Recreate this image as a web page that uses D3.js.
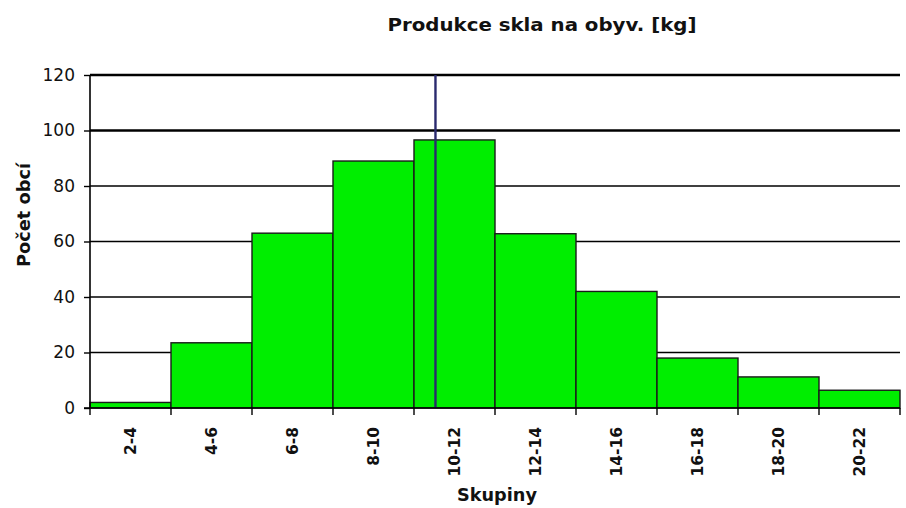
<!DOCTYPE html>
<html>
<head>
<meta charset="utf-8">
<script src="https://cdn.jsdelivr.net/npm/d3@7/dist/d3.min.js"></script>
<style>
  html, body { margin: 0; padding: 0; background: #ffffff; }
  svg { display: block; }
</style>
</head>
<body>
<svg id="chart" width="906" height="508"></svg>
<script>
const categories = ["2-4", "4-6", "6-8", "8-10", "10-12", "12-14", "14-16", "16-18", "18-20", "20-22"];
const counts = [2, 23.5, 63, 89, 96.6, 62.8, 42, 18, 11.2, 6.4];
const yTicks = [0, 20, 40, 60, 80, 100, 120];
const binEdges = [2, 22];
const meanValue = 10.53;

const title = "Produkce skla na obyv. [kg]";
const xTitle = "Skupiny";
const yTitle = "Počet obcí";

(function () {
const svg = d3.select("#chart");
const pLeft = 90, pRight = 900, pTop = 75, pBottom = 408;

const x = d3.scaleBand().domain(categories).range([pLeft, pRight]).padding(0);
const xv = d3.scaleLinear().domain(binEdges).range([pLeft, pRight]);
const y = d3.scaleLinear().domain([0, 120]).range([pBottom, pTop]);

const font = "'DejaVu Sans', Verdana, sans-serif";

// gridlines
svg.append("g").selectAll("line")
  .data(yTicks.filter(d => d > 0))
  .join("line")
  .attr("x1", pLeft).attr("x2", pRight)
  .attr("y1", d => y(d)).attr("y2", d => y(d))
  .attr("stroke", "#000")
  .attr("stroke-width", d => (d === 100 || d === 120) ? 2.6 : 1.4);

// bars
svg.append("g").selectAll("rect")
  .data(categories.map((c, i) => ({ c, v: counts[i] })))
  .join("rect")
  .attr("x", d => x(d.c))
  .attr("width", x.bandwidth())
  .attr("y", d => y(d.v))
  .attr("height", d => y(0) - y(d.v))
  .attr("fill", "#00ee00")
  .attr("stroke", "#1a1a1a")
  .attr("stroke-width", 1.4);

// mean line
svg.append("line")
  .attr("x1", xv(meanValue)).attr("x2", xv(meanValue))
  .attr("y1", y(120)).attr("y2", y(0))
  .attr("stroke", "#2a2a6e")
  .attr("stroke-width", 2.4);

// y axis
const yAxis = d3.axisLeft(y).tickValues(yTicks).tickSize(6).tickPadding(9);
const gy = svg.append("g").attr("transform", `translate(${pLeft},0)`).call(yAxis);
gy.select(".domain").attr("stroke", "#000").attr("stroke-width", 1.6).attr("d", `M0,${pTop}V${pBottom}`);
gy.selectAll(".tick line").attr("stroke", "#000").attr("stroke-width", 1.4);
gy.selectAll(".tick text")
  .attr("font-family", font).attr("font-size", 17).attr("fill", "#111");

// x axis
const xAxis = d3.axisBottom(x).tickSize(0).tickPadding(0);
const gx = svg.append("g").attr("transform", `translate(0,${pBottom})`).call(xAxis);
gx.select(".domain").attr("stroke", "#000").attr("stroke-width", 1.6).attr("d", `M${pLeft - 6},0H${pRight}`);
gx.selectAll(".tick text")
  .attr("font-family", font).attr("font-size", 15.5).attr("font-weight", "bold").attr("fill", "#111")
  .attr("text-anchor", "end")
  .attr("dy", "0.35em")
  .attr("transform", "translate(0,19) rotate(-90)")
  .attr("y", 0).attr("x", 0);

// x boundary ticks
const edges = categories.map(c => x(c)).concat([pRight]);
svg.append("g").selectAll("line")
  .data(edges)
  .join("line")
  .attr("x1", d => d).attr("x2", d => d)
  .attr("y1", pBottom).attr("y2", pBottom + 7)
  .attr("stroke", "#000").attr("stroke-width", 1.4);

// titles
svg.append("text")
  .attr("x", 542).attr("y", 31)
  .attr("text-anchor", "middle")
  .attr("font-family", font).attr("font-size", 18).attr("font-weight", "bold")
  .attr("fill", "#111")
  .attr("textLength", 309).attr("lengthAdjust", "spacingAndGlyphs")
  .text(title);

svg.append("text")
  .attr("x", 497).attr("y", 501)
  .attr("text-anchor", "middle")
  .attr("font-family", font).attr("font-size", 17).attr("font-weight", "bold")
  .attr("fill", "#111")
  .attr("textLength", 80).attr("lengthAdjust", "spacingAndGlyphs")
  .text(xTitle);

svg.append("text")
  .attr("transform", "translate(30,215) rotate(-90)")
  .attr("text-anchor", "middle")
  .attr("font-family", font).attr("font-size", 17).attr("font-weight", "bold")
  .attr("fill", "#111")
  .attr("textLength", 104).attr("lengthAdjust", "spacingAndGlyphs")
  .text(yTitle);
})();
</script>
</body>
</html>
